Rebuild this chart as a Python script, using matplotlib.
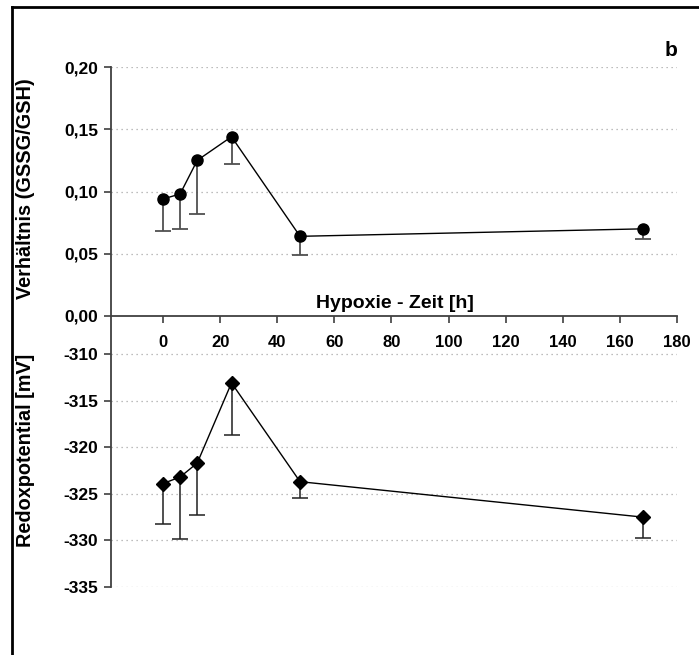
import matplotlib
matplotlib.use("Agg")
import matplotlib.pyplot as plt
from matplotlib.lines import Line2D

# ---- data ----
time_h = [0, 6, 12, 24, 48, 168]
ratio = [0.094, 0.098, 0.125, 0.144, 0.064, 0.070]
ratio_err_low = [0.026, 0.028, 0.043, 0.022, 0.015, 0.008]
redox = [-323.9, -323.2, -321.7, -313.1, -323.7, -327.5]
redox_err_low = [4.3, 6.6, 5.6, 5.6, 1.7, 2.2]

x_ticks = [0, 20, 40, 60, 80, 100, 120, 140, 160, 180]
ratio_ticks = [0.00, 0.05, 0.10, 0.15, 0.20]
ratio_tick_labels = ["0,00", "0,05", "0,10", "0,15", "0,20"]
redox_ticks = [-335, -330, -325, -320, -315, -310]
redox_tick_labels = ["-335", "-330", "-325", "-320", "-315", "-310"]

plt.rcParams['font.family'] = ['Liberation Sans', 'DejaVu Sans']
plt.rcParams['font.weight'] = 'bold'

W, H = 699, 655
fig = plt.figure(figsize=(W / 100, H / 100), dpi=100)

def fx(px):
    return px / W

def fy(py):
    return (H - py) / H

spine_col = '#404040'
grid_kw = dict(color='#a8a8a8', linestyle=(0, (1, 3)), linewidth=0.9)
ytick_fs = 12.5
xtick_fs = 12
label_fs = 14.3

x0, x1 = 111, 677
# top axes
ax1 = fig.add_axes([fx(x0), fy(316), fx(x1) - fx(x0), fy(67) - fy(316)])
# bottom axes
ax2 = fig.add_axes([fx(x0), fy(587), fx(x1) - fx(x0), fy(316) - fy(587)])

xlim = (-18.2, 180)
for ax in (ax1, ax2):
    ax.set_xlim(*xlim)
    ax.patch.set_alpha(0)
    for s in ('top', 'right'):
        ax.spines[s].set_visible(False)
    ax.spines['left'].set_color(spine_col)
    ax.spines['left'].set_linewidth(1.3)
    ax.tick_params(axis='y', direction='out', length=5, width=1.2, color=spine_col,
                   labelsize=ytick_fs, pad=4)

ax1.set_ylim(0, 0.20)
ax1.set_yticks(ratio_ticks)
ax1.set_yticklabels(ratio_tick_labels, fontweight='bold')
ax1.spines['bottom'].set_color(spine_col)
ax1.spines['bottom'].set_linewidth(1.3)
ax1.set_xticks(x_ticks)
ax1.set_xticklabels([str(t) for t in x_ticks], fontweight='bold')
ax1.tick_params(axis='x', direction='out', length=5, width=1.2, color=spine_col,
                labelsize=xtick_fs, pad=9)
for t in ratio_ticks[1:]:
    ax1.axhline(t, **grid_kw, zorder=0)

top_lim = -310 + (354 - 316) / ((587 - 354) / 25.0)
ax2.set_ylim(-335, top_lim)
ax2.set_yticks(redox_ticks)
ax2.set_yticklabels(redox_tick_labels, fontweight='bold')
ax2.spines['bottom'].set_visible(False)
ax2.set_xticks([])
for t in redox_ticks:
    ax2.axhline(t, **grid_kw, zorder=0)

# series
ax1.plot(time_h, ratio, color='black', linewidth=1.0, zorder=3)
eb1 = ax1.errorbar(time_h, ratio, yerr=[ratio_err_low, [0] * len(ratio)], fmt='none',
                   ecolor='#505050', elinewidth=1.3, capsize=6, capthick=1.3, zorder=2)
eb1[1][1].set_visible(False)
ax1.plot(time_h, ratio, linestyle='none', marker='o', markersize=8,
         color='black', zorder=4, clip_on=False)

ax2.plot(time_h, redox, color='black', linewidth=1.0, zorder=3)
eb2 = ax2.errorbar(time_h, redox, yerr=[redox_err_low, [0] * len(redox)], fmt='none',
                   ecolor='#202020', elinewidth=1.1, capsize=6, capthick=1.1, zorder=2)
eb2[1][1].set_visible(False)
ax2.plot(time_h, redox, linestyle='none', marker='D', markersize=7,
         color='black', zorder=4, clip_on=False)

# labels
fig.text(fx(395), fy(304), "Hypoxie - Zeit [h]", ha='center', va='center',
         fontsize=14, fontweight='bold')
fig.text(fx(26), fy(189), "Verhältnis (GSSG/GSH)", rotation=90, ha='center', va='center',
         fontsize=label_fs, fontweight='bold')
fig.text(fx(26), fy(450), "Redoxpotential [mV]", rotation=90, ha='center', va='center',
         fontsize=label_fs, fontweight='bold')
fig.text(fx(671), fy(51), "b", ha='center', va='center', fontsize=15, fontweight='bold')

# frame border (top and left edges visible)
fig.add_artist(Line2D([fx(11.5), 1.0], [fy(6.5), fy(6.5)], color='black', linewidth=2,
                      transform=fig.transFigure))
fig.add_artist(Line2D([fx(11.5), fx(11.5)], [fy(6.5), 0.0], color='black', linewidth=2,
                      transform=fig.transFigure))

fig.savefig("out.png", dpi=100)
